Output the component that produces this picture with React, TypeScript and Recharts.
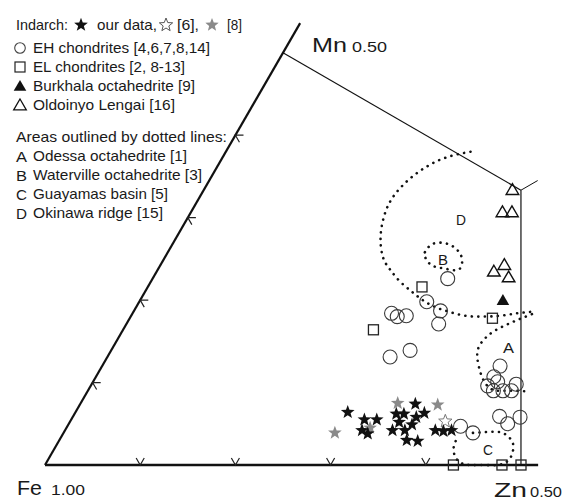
import React from 'react';
import { ScatterChart, Scatter, XAxis, YAxis } from 'recharts';

// Ternary compositions given as [Zn, Mn] mole fractions (Fe = 1 - Zn - Mn)
const indarchOurData: [number, number][] = [
  [0.286, 0.064], [0.308, 0.055], [0.321, 0.055], [0.312, 0.042], [0.320, 0.038],
  [0.338, 0.062], [0.352, 0.074], [0.346, 0.062], [0.361, 0.058], [0.367, 0.063],
  [0.344, 0.042], [0.357, 0.042], [0.365, 0.030], [0.377, 0.029], [0.389, 0.042],
  [0.398, 0.041], [0.406, 0.042], [0.361, 0.049], [0.346, 0.052],
];
const indarchRef6: [number, number][] = [[0.394, 0.053]];
const indarchRef8: [number, number][] = [[0.285, 0.039], [0.333, 0.075], [0.376, 0.073], [0.319, 0.045]];
const ehChondrites: [number, number][] = [
  [0.310, 0.226], [0.302, 0.198], [0.322, 0.187], [0.328, 0.171], [0.272, 0.184],
  [0.280, 0.180], [0.289, 0.181], [0.314, 0.139], [0.297, 0.131],
  [0.418, 0.120], [0.418, 0.107], [0.417, 0.096], [0.426, 0.090], [0.436, 0.090],
  [0.445, 0.090], [0.446, 0.098], [0.425, 0.101],
  [0.448, 0.059], [0.461, 0.050], [0.470, 0.058],
  [0.413, 0.047], [0.430, 0.039],
];
const elChondrites: [number, number][] = [
  [0.288, 0.216], [0.263, 0.164], [0.381, 0.178], [0.429, 0.0], [0.480, 0.0], [0.500, 0.0],
];
const burkhala: [number, number][] = [[0.381, 0.200]];
const oldoinyoLengai: [number, number][] = [
  [0.324, 0.334], [0.327, 0.307], [0.337, 0.307], [0.354, 0.235], [0.361, 0.243], [0.373, 0.228],
];

// Areas outlined by dotted lines
const areaA: [number, number][] = [
  [0.420, 0.183], [0.410, 0.177], [0.401, 0.171], [0.392, 0.164], [0.386, 0.155], [0.384, 0.144],
  [0.388, 0.132], [0.397, 0.118], [0.409, 0.103], [0.423, 0.092], [0.436, 0.090], [0.450, 0.090], [0.464, 0.089],
];
const areaB: [number, number][] = [
  [0.270, 0.258], [0.273, 0.268], [0.286, 0.269], [0.301, 0.262], [0.313, 0.250], [0.316, 0.237],
  [0.302, 0.238], [0.288, 0.241], [0.276, 0.249], [0.270, 0.258],
];
const areaC: [number, number][] = [
  [0.430, 0.039], [0.444, 0.040], [0.457, 0.040], [0.467, 0.036], [0.477, 0.028], [0.483, 0.017],
  [0.484, 0.006], [0.476, 0.0], [0.461, 0.0], [0.446, 0.0], [0.433, 0.004], [0.422, 0.015],
  [0.417, 0.027], [0.418, 0.035],
];
const areaD: [number, number][] = [
  [0.257, 0.380], [0.237, 0.374], [0.221, 0.363], [0.209, 0.346], [0.203, 0.325], [0.205, 0.303],
  [0.214, 0.277], [0.229, 0.252], [0.244, 0.237], [0.261, 0.223], [0.279, 0.211], [0.295, 0.201],
  [0.313, 0.192], [0.331, 0.186], [0.351, 0.181], [0.370, 0.180], [0.388, 0.181], [0.404, 0.184], [0.420, 0.186],
];

// Diagram frame (ternary sub-region) and ticks
const edgeFeZn: [number, number][] = [[0, 0], [0.518, 0]];
const edgeFeMn: [number, number][] = [[0, 0], [0, 0.536]];
const lineMnCentroid: [number, number][] = [[0, 0.5], [0.3333, 0.3333]];
const lineZnCentroid: [number, number][] = [[0.5, 0], [0.3333, 0.3333]];
const lineCentroidStub: [number, number][] = [[0.3333, 0.3333], [0.345, 0.345]];
const tickValues = [0.1, 0.2, 0.3, 0.4];
const TICK = 0.0085;

const W = 565;
const H = 500;
const X0 = -0.047269, X1 = 0.546218;
const Y0 = -0.036765, Y1 = 0.488445;
const S3 = Math.sqrt(3) / 2;
const toXY = (p: [number, number]) => ({ x: p[0] + p[1] / 2, y: p[1] * S3 });

const bottomTicks = tickValues.map((t) => [[t - TICK, TICK], [t, 0], [t, TICK]] as [number, number][]);
const leftTicks = tickValues.map((t) => [[TICK, t], [0, t], [TICK, t - TICK]] as [number, number][]);

const starPath = (cx: number, cy: number, R: number, r: number) => {
  let d = '';
  for (let i = 0; i < 10; i++) {
    const a = -Math.PI / 2 + (i * Math.PI) / 5;
    const rad = i % 2 ? r : R;
    d += (i ? 'L' : 'M') + (cx + rad * Math.cos(a)).toFixed(2) + ',' + (cy + rad * Math.sin(a)).toFixed(2);
  }
  return d + 'Z';
};
const triPath = (cx: number, cy: number) =>
  `M${cx},${cy - 6}L${cx + 6.3},${cy + 4.8}L${cx - 6.3},${cy + 4.8}Z`;

const none = () => <g />;
const BlackStar = (p: any) => <path d={starPath(p.cx, p.cy, 7.2, 3.0)} fill="#111" />;
const GrayStar = (p: any) => <path d={starPath(p.cx, p.cy, 7.2, 3.0)} fill="#8a8a8a" />;
const OpenStar = (p: any) => <path d={starPath(p.cx, p.cy, 7, 3)} fill="none" stroke="#777" strokeWidth={1} />;
const OpenCircle = (p: any) => <circle cx={p.cx} cy={p.cy} r={7} fill="none" stroke="#3a3a3a" strokeWidth={1.1} />;
const OpenSquare = (p: any) => (
  <rect x={p.cx - 5} y={p.cy - 5} width={10} height={10} fill="none" stroke="#222" strokeWidth={1.3} />
);
const FilledTri = (p: any) => <path d={triPath(p.cx, p.cy)} fill="#111" />;
const OpenTri = (p: any) => <path d={triPath(p.cx, p.cy)} fill="none" stroke="#111" strokeWidth={1.4} />;

const FONT = "'Liberation Sans', Arial, Helvetica, sans-serif";
const T = ({ x, y, w, s = 14.5, children }: any) => (
  <text x={x} y={y} fontSize={s} fontFamily={FONT} fill="#1a1a1a" textLength={w} lengthAdjust="spacingAndGlyphs">
    {children}
  </text>
);

const dotted = { stroke: '#111', strokeWidth: 2.6, strokeDasharray: '0.1 6.4', strokeLinecap: 'round' as const };

export default function App() {
  return (
    <div style={{ position: 'relative', width: W, height: H }}>
      <style>{'html,body{margin:0;padding:0;overflow:hidden}'}</style>
      <ScatterChart width={W} height={H} margin={{ top: 0, right: 0, bottom: 0, left: 0 }}>
        <XAxis type="number" dataKey="x" domain={[X0, X1]} hide allowDataOverflow />
        <YAxis type="number" dataKey="y" domain={[Y0, Y1]} hide allowDataOverflow />
        <Scatter data={edgeFeZn.map(toXY)} line={{ stroke: '#111', strokeWidth: 2.6 }} shape={none} isAnimationActive={false} />
        <Scatter data={edgeFeMn.map(toXY)} line={{ stroke: '#111', strokeWidth: 2.2 }} shape={none} isAnimationActive={false} />
        <Scatter data={lineMnCentroid.map(toXY)} line={{ stroke: '#111', strokeWidth: 1.2 }} shape={none} isAnimationActive={false} />
        <Scatter data={lineZnCentroid.map(toXY)} line={{ stroke: '#111', strokeWidth: 1.2 }} shape={none} isAnimationActive={false} />
        <Scatter data={lineCentroidStub.map(toXY)} line={{ stroke: '#111', strokeWidth: 1 }} shape={none} isAnimationActive={false} />
        {bottomTicks.map((t, i) => (
          <Scatter key={'bt' + i} data={t.map(toXY)} line={{ stroke: '#222', strokeWidth: 1.2 }} shape={none} isAnimationActive={false} />
        ))}
        {leftTicks.map((t, i) => (
          <Scatter key={'lt' + i} data={t.map(toXY)} line={{ stroke: '#222', strokeWidth: 1.2 }} shape={none} isAnimationActive={false} />
        ))}
        <Scatter data={areaD.map(toXY)} line={dotted} lineJointType="natural" shape={none} isAnimationActive={false} />
        <Scatter data={areaA.map(toXY)} line={dotted} lineJointType="natural" shape={none} isAnimationActive={false} />
        <Scatter data={areaB.map(toXY)} line={dotted} lineJointType="natural" shape={none} isAnimationActive={false} />
        <Scatter data={areaC.map(toXY)} line={dotted} lineJointType="natural" shape={none} isAnimationActive={false} />
        <Scatter data={ehChondrites.map(toXY)} shape={OpenCircle} isAnimationActive={false} />
        <Scatter data={elChondrites.map(toXY)} shape={OpenSquare} isAnimationActive={false} />
        <Scatter data={burkhala.map(toXY)} shape={FilledTri} isAnimationActive={false} />
        <Scatter data={oldoinyoLengai.map(toXY)} shape={OpenTri} isAnimationActive={false} />
        <Scatter data={indarchRef8.map(toXY)} shape={GrayStar} isAnimationActive={false} />
        <Scatter data={indarchRef6.map(toXY)} shape={OpenStar} isAnimationActive={false} />
        <Scatter data={indarchOurData.map(toXY)} shape={BlackStar} isAnimationActive={false} />
      </ScatterChart>
      <svg width={W} height={H} style={{ position: 'absolute', left: 0, top: 0, pointerEvents: 'none' }}>
        {/* legend */}
        <T x={16} y={30} w={52}>Indarch:</T>
        <path d={starPath(81, 25, 7.2, 3)} fill="#111" />
        <T x={97} y={30} w={60}>our data,</T>
        <path d={starPath(166, 25, 7, 3)} fill="none" stroke="#555" strokeWidth={1} />
        <T x={177} y={30} w={22}>[6],</T>
        <path d={starPath(212, 25, 7, 3)} fill="#8a8a8a" />
        <T x={227} y={30} w={15}>[8]</T>

        <circle cx={20} cy={48} r={5.3} fill="none" stroke="#444" strokeWidth={1.1} />
        <T x={33} y={53} w={177}>EH chondrites [4,6,7,8,14]</T>
        <rect x={15} y={62} width={10} height={10} fill="none" stroke="#222" strokeWidth={1.2} />
        <T x={33} y={72} w={152}>EL chondrites [2, 8-13]</T>
        <path d={triPath(20, 86)} fill="#111" />
        <T x={33} y={91} w={162}>Burkhala octahedrite [9]</T>
        <path d={triPath(20, 105)} fill="none" stroke="#111" strokeWidth={1.3} />
        <T x={33} y={110} w={142}>Oldoinyo Lengai [16]</T>

        <T x={16} y={142} w={211}>Areas outlined by dotted lines:</T>
        <T x={16} y={162} w={11} s={15}>A</T>
        <T x={33} y={161} w={154}>Odessa octahedrite [1]</T>
        <T x={16} y={181} w={11} s={15}>B</T>
        <T x={33} y={180} w={169}>Waterville octahedrite [3]</T>
        <T x={16} y={200} w={11} s={15}>C</T>
        <T x={33} y={199} w={135}>Guayamas basin [5]</T>
        <T x={16} y={219} w={11} s={15}>D</T>
        <T x={33} y={218} w={130}>Okinawa ridge [15]</T>

        {/* vertex labels */}
        <T x={17} y={495} w={25} s={21}>Fe</T>
        <T x={51} y={495} w={34} s={15}>1.00</T>
        <T x={312} y={52} w={35} s={21}>Mn</T>
        <T x={352} y={52} w={35} s={15}>0.50</T>
        <T x={494} y={497} w={33} s={21}>Zn</T>
        <T x={530} y={497} w={32} s={15}>0.50</T>

        {/* area letters */}
        <T x={456} y={225} w={10} s={15}>D</T>
        <T x={438} y={265} w={10} s={15}>B</T>
        <T x={503} y={353} w={11} s={15}>A</T>
        <T x={483} y={455} w={10} s={15}>C</T>
      </svg>
    </div>
  );
}
